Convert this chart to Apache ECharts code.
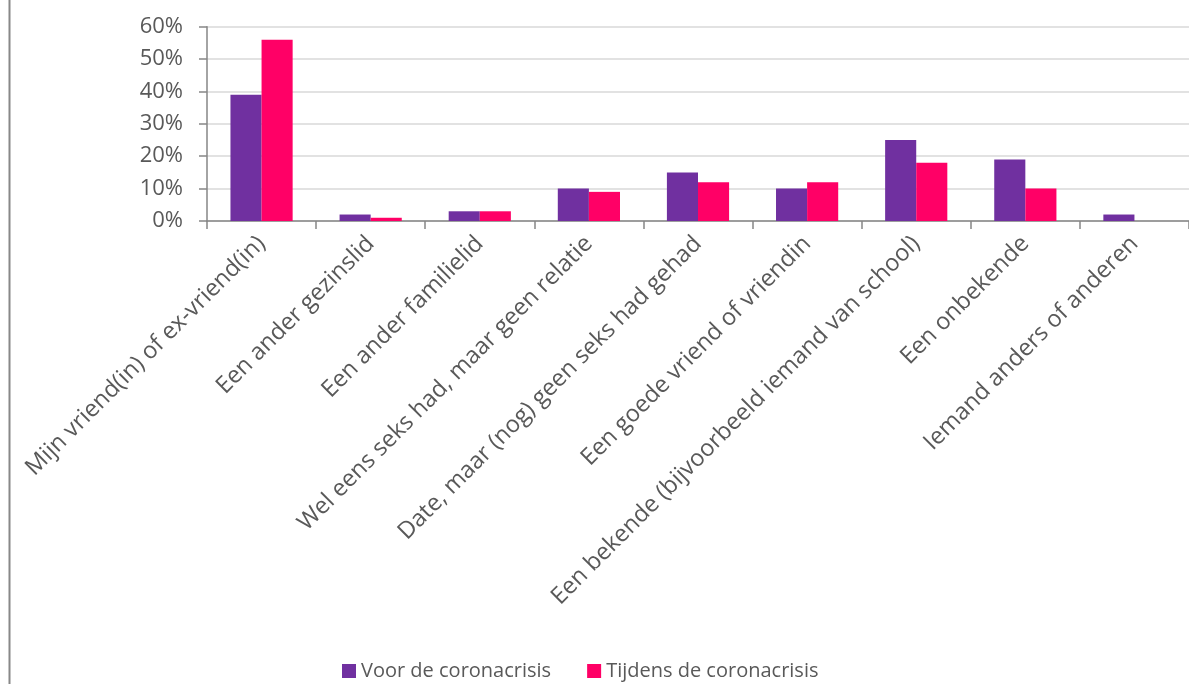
<!DOCTYPE html>
<html>
<head>
<meta charset="utf-8">
<script src="https://cdn.jsdelivr.net/npm/echarts@6/dist/echarts.min.js"></script>
<style>
html,body{margin:0;padding:0;background:#fff;}
#c{width:1189px;height:684px;}
</style>
</head>
<body>
<div id="c"></div>
<script>
const categories = [
  "Mijn vriend(in) of ex-vriend(in)",
  "Een ander gezinslid",
  "Een ander familielid",
  "Wel eens seks had, maar geen relatie",
  "Date, maar (nog) geen seks had gehad",
  "Een goede vriend of vriendin",
  "Een bekende (bijvoorbeeld iemand van school)",
  "Een onbekende",
  "Iemand anders of anderen"
];
const voorValues = [39, 2, 3, 10, 15, 10, 25, 19, 2];
const tijdensValues = [56, 1, 3, 9, 12, 12, 18, 10, 0];
const seriesNames = ["Voor de coronacrisis", "Tijdens de coronacrisis"];

const FONT = "'Open Sans', sans-serif";
const chart = echarts.init(document.getElementById('c'), null, {renderer: 'canvas'});
chart.setOption({
  animation: false,
  textStyle: {fontFamily: FONT},
  grid: {left: 207, top: 26.7, width: 993.6, height: 194.3, containLabel: false},
  legend: {
    left: 337, top: 656,
    itemWidth: 14, itemHeight: 14, itemGap: 36,
    icon: 'rect',
    textStyle: {fontFamily: FONT, fontSize: 20, color: '#595959'},
    data: seriesNames
  },
  xAxis: {
    type: 'category',
    data: categories,
    axisLine: {lineStyle: {color: '#868686', width: 1.5}},
    axisTick: {show: true, length: 8, lineStyle: {color: '#868686', width: 1.5}},
    axisLabel: {rotate: 45, interval: 0, margin: 19, fontFamily: FONT, fontSize: 23.5, color: '#595959'}
  },
  yAxis: {
    type: 'value',
    min: 0, max: 60, interval: 10,
    axisLine: {show: true, lineStyle: {color: '#868686', width: 1.5}},
    axisTick: {show: true, length: 8, lineStyle: {color: '#868686', width: 1.5}},
    splitLine: {lineStyle: {color: '#d9d9d9', width: 1.5}},
    axisLabel: {formatter: '{value}%', margin: 24, fontFamily: FONT, fontSize: 22, color: '#595959'}
  },
  series: [
    {name: seriesNames[0], type: 'bar', data: voorValues, barGap: '0%', barCategoryGap: '43%',
     itemStyle: {color: '#7030A0'}},
    {name: seriesNames[1], type: 'bar', data: tijdensValues, barGap: '0%', barCategoryGap: '43%',
     itemStyle: {color: '#FF0066'}}
  ],
  graphic: [
    {type: 'line', shape: {x1: 9.5, y1: 0, x2: 9.5, y2: 684}, style: {stroke: '#888888', lineWidth: 2}}
  ]
});
</script>
</body>
</html>
